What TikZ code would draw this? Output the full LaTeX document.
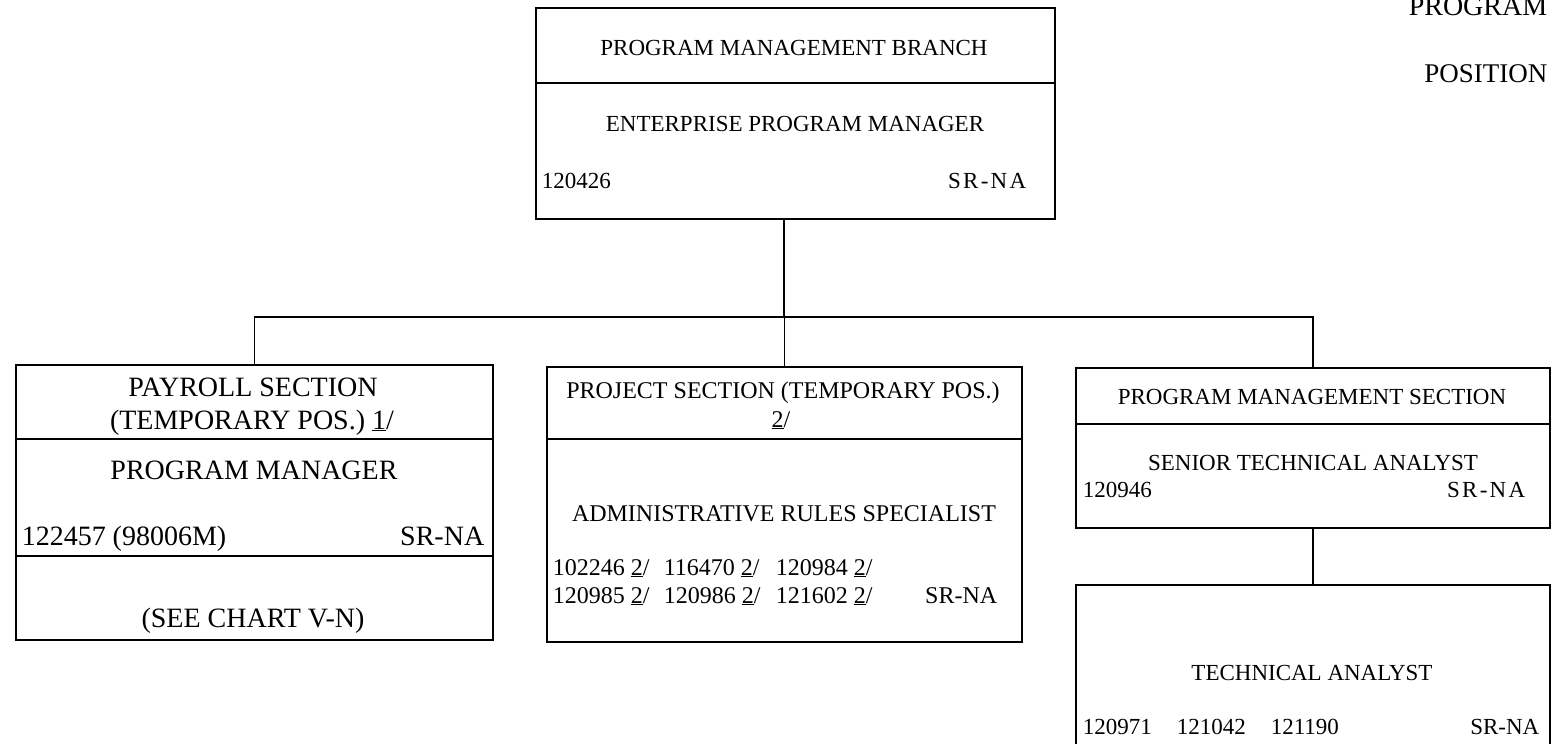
\documentclass[tikz,border=0pt]{standalone}
\usepackage{fontspec}
\setmainfont{Liberation Serif}
\newfontfamily\spacedfont[LetterSpace=10]{Liberation Serif}
\begin{document}
\begin{tikzpicture}[x=1pt,y=-1pt,line width=1.5pt,
  box/.style={draw,rectangle,inner sep=0pt,anchor=north west},
  tc/.style={inner sep=0pt,anchor=base},
  tl/.style={inner sep=0pt,anchor=base west},
  tr/.style={inner sep=0pt,anchor=base east},
  fa/.style={font=\fontsize{23}{27}\selectfont},
  fb/.style={font=\fontsize{28}{32}\selectfont},
  fc/.style={font=\fontsize{24}{28}\selectfont},
  fs/.style={font=\fontsize{23}{27}\spacedfont}]
\clip (0,0) rectangle (1551,744);
% boxes
\node[box,minimum width=519pt,minimum height=211pt] (top) at (535,7) {};
\node[box,minimum width=477pt,minimum height=275pt] (left) at (15,364) {};
\node[box,minimum width=475pt,minimum height=275pt] (mid) at (546,366) {};
\node[box,minimum width=474pt,minimum height=160pt] (rtop) at (1075,367) {};
\node[box,minimum width=474pt,minimum height=160pt] (rbot) at (1075,584) {};
% dividers
\draw (top.west |- 0,83) -- (top.east |- 0,83);
\draw (left.west |- 0,439) -- (left.east |- 0,439);
\draw (left.west |- 0,556) -- (left.east |- 0,556);
\draw (mid.west |- 0,439) -- (mid.east |- 0,439);
\draw (rtop.west |- 0,424) -- (rtop.east |- 0,424);
% connectors
\coordinate (bus) at (784,317);
\draw (top.south -| bus) -- (bus);
\draw (left.north) -- (left.north |- bus) -- (rtop.north |- bus) -- (rtop.north);
\draw (mid.north |- bus) -- (mid.north);
\draw (rtop.south) -- (rbot.north);
% top box texts
\node[tc,fa] (t1) at (794,55) {PROGRAM MANAGEMENT BRANCH};
\node[tc,fa] (t2) at (795,131) {ENTERPRISE PROGRAM MANAGER};
\node[tl,fa] (t3) at (541,188) {120426};
\node[tr,fs] (t4) at (1027,188) {SR-NA};
% left box texts
\node[tc,fb] (l1) at (253,396) {PAYROLL SECTION};
\node[tc,fb] (l2) at (252,429) {(TEMPORARY POS.) \underline{1}/};
\node[tc,fb] (l3) at (254,479) {PROGRAM MANAGER};
\node[tl,fb] (l4) at (21,545) {122457 (98006M)};
\node[tr,fb] (l5) at (485,545) {SR-NA};
\node[tc,fb] (l6) at (253,627) {(SEE CHART V-N)};
% middle box texts
\node[tc,fc] (m1) at (783,398) {PROJECT SECTION (TEMPORARY POS.)};
\node[tc,fc] (m2) at (781,427) {\underline{2}/};
\node[tc,fc] (m3) at (784,521) {ADMINISTRATIVE RULES SPECIALIST};
\node[tl,fc] (m4) at (552,575) {102246 \underline{2}/};
\node[tl,fc] (m5) at (663,575) {116470 \underline{2}/};
\node[tl,fc] (m6) at (775,575) {120984 \underline{2}/};
\node[tl,fc] (m7) at (552,603) {120985 \underline{2}/};
\node[tl,fc] (m8) at (663,603) {120986 \underline{2}/};
\node[tl,fc] (m9) at (775,603) {121602 \underline{2}/};
\node[tr,fc] (m10) at (998,603) {SR-NA};
% right top box texts
\node[tc,fa] (r1) at (1312,404) {PROGRAM MANAGEMENT SECTION};
\node[tc,fa] (r2) at (1313,470) {SENIOR TECHNICAL ANALYST};
\node[tl,fa] (r3) at (1082,497) {120946};
\node[tr,fs] (r4) at (1526,497) {SR-NA};
% right bottom box texts
\node[tc,fa] (b1) at (1312,680) {TECHNICAL ANALYST};
\node[tl,fa] (b2) at (1082,734) {120971};
\node[tl,fa] (b3) at (1176,734) {121042};
\node[tl,fa] (b4) at (1270,734) {121190};
\node[tr,fa] (b5) at (1540,734) {SR-NA};
% corner labels
\node[tr,fb] (c1) at (1548,16) {PROGRAM};
\node[tr,font=\fontsize{27}{31}\selectfont] (c2) at (1548,82) {POSITION};
\end{tikzpicture}
\end{document}
